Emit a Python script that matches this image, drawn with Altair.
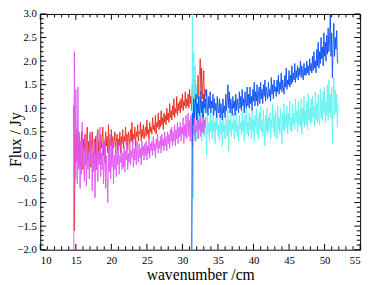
import altair as alt
import pandas as pd

# ---- data (flux in Jy) ----
# low-wavenumber band: sampled every 0.1 cm^-1 starting at 14.7
low_start = 14.7
red_flux = [
    1.05, -1.6, 0.45, -0.15, 0.3, 0.55, -0.1, 0.2, 0.4, -0.25,
    0.15, 0.5, 0.0, -0.3, 0.35, 0.1, 0.45, -0.2, 0.25, 0.6,
    -0.1, 0.3, 0.05, 0.45, -0.25, 0.2, 0.5, 0.1, -0.2, 0.35,
    0.0, 0.4, -0.3, 0.25, 0.55, 0.05, 0.3, -0.1, 0.45, 0.15,
    0.35, 0.6, 0.0, 0.3, -0.15, 0.5, 0.2, 0.4, 0.05, 0.65,
    0.1, 0.35, 0.2, 0.55, 0.0, 0.4, 0.15, 0.3, 0.5, 0.05,
    0.3, 0.45, 0.1, 0.35, 0.2, 0.5, 0.05, 0.4, 0.25, 0.55,
    0.15, 0.4, 0.3, 0.6, 0.2, 0.45, 0.1, 0.5, 0.35, 0.25,
    0.55, 0.3, 0.7, 0.25, 0.45, 0.35, 0.6, 0.2, 0.5, 0.4,
    0.65, 0.3, 0.5, 0.45, 0.7, 0.3, 0.55, 0.4, 0.65, 0.35,
    0.5, 0.6, 0.4, 0.75, 0.45, 0.55, 0.35, 0.7, 0.5, 0.6,
    0.45, 0.8, 0.55, 0.65, 0.5, 0.85, 0.45, 0.7, 0.6, 0.9,
    0.55, 0.75, 0.6, 0.95, 0.65, 0.8, 0.55, 0.9, 0.7, 0.85,
    0.65, 1.0, 0.75, 0.9, 0.7, 1.1, 0.8, 0.95, 0.75, 1.05,
    0.85, 1.2, 0.8, 1.0, 0.9, 1.25, 0.85, 1.1, 0.95, 1.15,
    0.9, 1.2, 1.0, 1.3, 0.95, 1.15, 1.05, 1.35, 1.0, 1.2,
    1.05, 1.3, 1.0, 1.4, 1.1, 1.25, 0.95, 1.5, 1.1, 1.3,
    1.15, 1.6, 1.05, 1.4, 1.2, 1.7, 1.1, 1.5, 2.05, 1.3,
    1.85, 1.2, 1.55, 1.8, 1.15, 1.4, 1.25,
]
magenta_flux = [
    -2.5, 2.2, -0.5, 1.4, 0.1, -0.6, 1.45, -0.3, 0.5, -0.7,
    0.3, -0.4, 0.7, -0.2, 0.15, -0.55, 0.4, -0.1, -0.65, 0.35,
    -0.3, 0.1, -0.5, 0.5, -0.2, 0.2, -0.75, 0.05, -0.35, 0.3,
    -0.9, 0.0, -0.3, 0.45, -0.55, 0.1, -0.2, 0.6, -0.45, 0.05,
    -0.3, 0.25, -0.6, -0.1, 0.35, -0.7, 0.0, -0.45, -1.0, 0.2,
    -0.35, 0.45, -0.5, 0.05, -0.25, 0.3, -0.6, 0.0, -0.3, 0.2,
    -0.45, 0.1, -0.2, 0.25, -0.4, 0.0, -0.15, 0.3, -0.3, 0.05,
    -0.25, 0.2, -0.35, 0.1, -0.1, 0.3, -0.3, 0.05, -0.15, 0.25,
    -0.2, 0.1, -0.05, 0.3, -0.25, 0.15, -0.1, 0.2, -0.2, 0.3,
    0.0, -0.15, 0.25, -0.05, 0.15, -0.2, 0.3, 0.0, 0.2, -0.1,
    0.25, 0.0, 0.3, -0.1, 0.2, 0.05, 0.35, -0.05, 0.25, 0.1,
    0.3, 0.0, 0.4, 0.1, 0.25, -0.05, 0.35, 0.15, 0.45, 0.05,
    0.3, 0.15, 0.4, 0.05, 0.45, 0.2, 0.35, 0.1, 0.5, 0.2,
    0.4, 0.1, 0.5, 0.25, 0.45, 0.15, 0.55, 0.3, 0.6, 0.2,
    0.5, 0.3, 0.65, 0.2, 0.55, 0.35, 0.7, 0.25, 0.6, 0.4,
    0.7, 0.3, 0.6, 0.45, 0.8, 0.25, 0.65, 0.4, 0.85, 0.35,
    0.6, 0.9, 0.4, 0.75, 0.3, 0.85, 0.5, 0.2, 0.7, 0.45,
    0.8, 0.3, 0.65, 0.5, 0.9, 0.35, 0.75, 0.55, 0.85, 0.4,
    0.7, 0.5, 0.9, 0.45, 0.75, 0.6, 0.8,
]
# high-wavenumber band: sampled every 0.1 cm^-1 starting at 31.3
high_start = 31.3
blue_flux = [
    -2.5, 0.9, 0.65, 1.2, 0.8, 1.05, 1.3, 0.75, 1.1, 0.9,
    1.25, 0.85, 1.0, 1.35, 0.9, 1.15, 0.8, 1.3, 1.0, 1.2,
    0.9, 1.4, 1.05, 0.85, 1.25, 1.0, 1.35, 0.9, 1.15, 1.0,
    1.3, 0.85, 1.2, 0.95, 1.1, 0.8, 1.25, 1.0, 0.9, 1.2,
    0.8, 1.1, 0.95, 0.75, 1.2, 0.9, 1.05, 0.8, 1.3, 0.95,
    1.15, 1.5, 1.0, 1.35, 0.9, 1.2, 1.05, 0.85, 1.25, 1.0,
    1.15, 0.85, 1.3, 0.95, 1.2, 1.05, 0.9, 1.35, 1.0, 1.25,
    0.95, 1.4, 1.05, 1.2, 0.9, 1.35, 1.1, 1.0, 1.45, 1.05,
    1.3, 1.0, 1.45, 1.1, 1.25, 0.95, 1.4, 1.15, 1.55, 1.05,
    1.35, 1.15, 1.5, 1.05, 1.3, 1.45, 1.1, 1.55, 1.2, 1.4,
    1.1, 1.5, 1.25, 1.6, 1.15, 1.45, 1.3, 1.2, 1.55, 1.25,
    1.4, 1.15, 1.65, 1.3, 1.5, 1.2, 1.6, 1.35, 1.45, 1.25,
    1.6, 1.35, 1.7, 1.3, 1.55, 1.4, 1.75, 1.35, 1.6, 1.45,
    1.3, 1.7, 1.45, 1.85, 1.4, 1.6, 1.5, 1.8, 1.45, 1.7,
    1.5, 1.9, 1.55, 1.75, 1.6, 1.95, 1.55, 1.8, 1.65, 1.9,
    1.6, 1.85, 1.7, 2.0, 1.65, 1.9, 1.75, 1.6, 1.95, 1.7,
    1.85, 1.7, 2.0, 1.75, 1.9, 1.7, 2.05, 1.8, 1.95, 1.75,
    2.1, 1.8, 2.2, 1.85, 2.0, 1.75, 2.25, 1.9, 2.4, 1.85,
    2.2, 1.95, 2.5, 2.05, 2.3, 1.9, 2.6, 2.1, 2.4, 2.0,
    2.55, 2.15, 2.7, 2.2, 2.45, 3.0, 2.1, 2.6, 1.65, 2.35,
    2.8, 2.1, 2.5, 2.25, 2.65, 2.0, 1.95,
]
cyan_flux = [
    -2.5, 3.3, -0.9, 2.2, 0.4, 1.9, 0.3, 1.5, 0.6, 1.1,
    0.35, 1.7, 0.5, 1.2, 0.3, 0.95, 0.6, 1.0, 0.4, 0.8,
    0.55, 0.0, 0.85, 0.45, 0.7, 0.3, 0.9, 0.5, 0.75, 0.35,
    0.95, 0.5, 0.7, 0.25, 0.8, 0.55, 1.0, 0.4, 0.65, 0.3,
    0.85, 0.45, 0.7, 0.2, 0.9, 0.5, 0.65, 0.35, 0.8, 0.55,
    0.4, 0.95, 0.1, 0.75, 0.5, 0.85, 0.4, 0.7, 0.55, 0.9,
    0.35, 0.75, 0.5, 0.9, 0.4, 0.65, 0.3, 0.85, 0.55, 0.7,
    0.45, 0.95, 0.5, 0.75, 0.3, 0.85, 0.6, 1.0, 0.45, 0.7,
    0.4, 0.9, 0.55, 0.8, 0.35, 0.95, 0.5, 0.75, 0.3, 0.85,
    0.6, 1.0, 0.45, 0.8, 0.35, 0.9, 0.55, 1.05, 0.5, 0.75,
    0.4, 0.95, 0.6, 0.2, 0.85, 0.5, 1.0, 0.45, 0.8, 0.55,
    0.9, 0.35, 0.75, 0.6, 1.1, 0.5, 0.85, 0.4, 0.95, 0.6,
    0.35, 1.05, 0.55, 0.8, 0.45, 1.0, 0.6, 0.25, 0.9, 0.55,
    1.1, 0.5, 0.85, 0.6, 1.05, 0.45, 0.9, 0.65, 1.15, 0.55,
    0.8, 0.5, 1.1, 0.65, 0.9, 0.55, 1.2, 0.7, 0.95, 0.5,
    1.15, 0.65, 0.9, 0.6, 1.2, 0.45, 1.0, 0.7, 1.25, 0.6,
    0.95, 0.65, 1.15, 0.55, 1.3, 0.75, 1.0, 0.65, 1.2, 0.7,
    1.25, 0.8, 1.05, 0.6, 1.35, 0.75, 1.1, 0.7, 1.3, 0.85,
    0.65, 1.4, 0.8, 1.2, 0.75, 1.35, 0.9, 1.45, 0.7, 1.15,
    0.85, 1.5, 0.75, 1.6, 0.9, 1.3, 0.8, 1.45, 0.25, 1.2,
    1.65, 0.85, 1.4, 0.9, 1.3, 0.6, 1.1,
]
step = 0.1

x_major = [10, 15, 20, 25, 30, 35, 40, 45, 50, 55]
x_minor = [v for v in range(10, 56) if v % 5 != 0]
y_major = [-2.0, -1.5, -1.0, -0.5, 0.0, 0.5, 1.0, 1.5, 2.0, 2.5, 3.0]
y_minor = [round(-2.0 + 0.1 * i, 1) for i in range(51) if i % 5 != 0]

W, H = 327, 241
FONT = "Liberation Serif"
xs = alt.Scale(domain=[10, 55], nice=False, zero=False)
ys = alt.Scale(domain=[-2, 3], nice=False, zero=False)
xaxis = alt.Axis(values=x_major, ticks=False, tickSize=0, domain=False, grid=False,
                 labelFont=FONT, labelFontSize=11, labelColor="black", labelPadding=5,
                 title="wavenumber /cm", titleFont=FONT, titleFontSize=16,
                 titleFontWeight="normal", titleColor="black",
                 titleY=30, titleBaseline="alphabetic")
yaxis = alt.Axis(values=y_major, format=".1f", ticks=False, tickSize=0, domain=False,
                 grid=False, labelFont=FONT, labelFontSize=11, labelColor="black",
                 labelPadding=4, title="Flux / Jy", titleFont=FONT, titleFontSize=16,
                 titleFontWeight="normal", titleColor="black", titleX=-20,
                 titleY=128, titleBaseline="alphabetic", titleAngle=-90)
X = lambda: alt.X("x:Q", scale=xs, axis=xaxis)
Y = lambda: alt.Y("y:Q", scale=ys, axis=yaxis)


def series(vals, start, color):
    df = pd.DataFrame({"x": [round(start + step * i, 2) for i in range(len(vals))],
                       "y": vals})
    return alt.Chart(df).mark_line(color=color, strokeWidth=1, clip=True, opacity=0.92).encode(
        x=X(), y=Y(), order="x:Q")


def xticks(vals, L):
    d = pd.DataFrame({"x": vals})
    bot = alt.Chart(d).mark_rule(color="black", strokeWidth=1).encode(
        x=X(), y=alt.value(H), y2=alt.value(H - L))
    top = alt.Chart(d).mark_rule(color="black", strokeWidth=1).encode(
        x=X(), y=alt.value(0), y2=alt.value(L))
    return [bot, top]


def yticks(vals, L):
    d = pd.DataFrame({"y": vals})
    left = alt.Chart(d).mark_rule(color="black", strokeWidth=1).encode(
        y=Y(), x=alt.value(0), x2=alt.value(L))
    right = alt.Chart(d).mark_rule(color="black", strokeWidth=1).encode(
        y=Y(), x=alt.value(W), x2=alt.value(W - L))
    return [left, right]


layers = [
    series(red_flux, low_start, "#e8281c"),
    series(cyan_flux, high_start, "#5ef2f2"),
    series(magenta_flux, low_start, "#e055f0"),
    series(blue_flux, high_start, "#0a4ef5"),
]
layers += xticks(x_major, 6) + xticks(x_minor, 3.5) + yticks(y_major, 6) + yticks(y_minor, 3.5)

chart = alt.layer(*layers).properties(
    width=W, height=H,
    autosize=alt.AutoSizeParams(type="none"),
    padding={"left": 33, "top": 3, "right": 6, "bottom": 33},
    background="white",
).configure_view(stroke="black", strokeWidth=1)

chart.save("out.html", embed_options={"renderer": "svg", "actions": False})
